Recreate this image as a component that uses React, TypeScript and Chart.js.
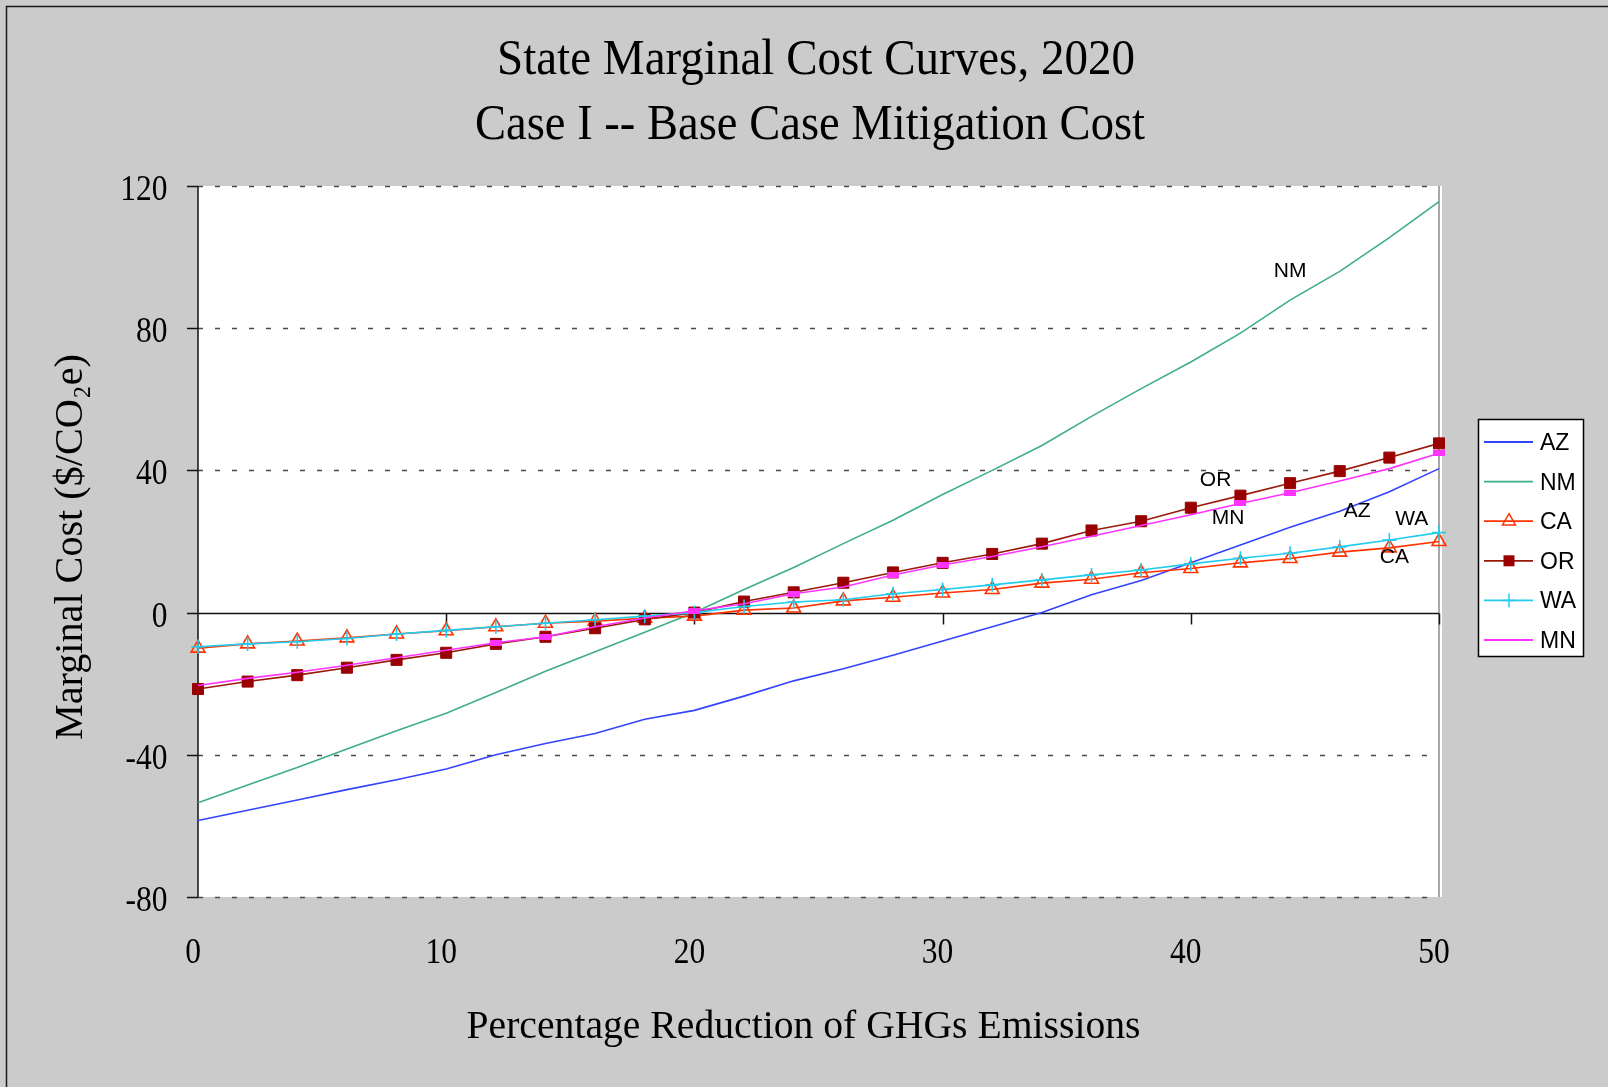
import React, { useEffect, useRef } from 'react';
import { Chart, registerables } from 'chart.js';

Chart.register(...registerables);

// ---------- data ----------
const reductionPct = [0, 2, 4, 6, 8, 10, 12, 14, 16, 18, 20, 22, 24, 26, 28, 30, 32, 34, 36, 38, 40, 42, 44, 46, 48, 50];
const azCost = [-58.5, -55.6, -52.7, -49.8, -47, -44, -40, -36.8, -34, -30, -27.5, -23.5, -19.2, -15.8, -12, -8, -4, 0, 5, 9, 14, 19, 24, 28.5, 34, 40.5];
const nmCost = [-53.5, -48.5, -43.6, -38.4, -33.2, -28.3, -22.5, -16.5, -11, -5.5, 0, 6.5, 12.7, 19.4, 26, 33.2, 40, 47, 55.2, 63, 70.5, 78.6, 87.9, 96, 105.5, 115.6];
const caCost = [-10, -8.8, -8, -7.1, -6, -5.1, -4, -3, -2.4, -1.6, -1, 0.7, 1.3, 3.3, 4.3, 5.5, 6.5, 8.3, 9.4, 11.2, 12.4, 14, 15.2, 17, 18.2, 20];
const orCost = [-21.5, -19.4, -17.6, -15.5, -13.3, -11.3, -8.8, -6.8, -4.4, -1.9, 0, 3.1, 5.7, 8.4, 11.3, 14, 16.5, 19.4, 23.1, 25.7, 29.5, 32.9, 36.4, 39.8, 43.6, 47.6];
const waCost = [-9.6, -8.8, -8.2, -7.3, -6, -5, -4, -3, -2, -1, 0, 1.7, 3, 3.6, 5.3, 6.5, 7.8, 9.2, 10.6, 12, 13.7, 15.3, 16.7, 18.5, 20.4, 22.5];
const mnCost = [-20.5, -18.5, -16.8, -14.8, -12.7, -10.6, -8.5, -6.8, -4, -1.5, 0.5, 2.5, 5.3, 7.2, 10.6, 13.4, 15.8, 18.5, 21.5, 24.5, 27.5, 30.7, 33.7, 37, 40.5, 44.8];
const mnMarkerAt = [12, 14, 20, 24, 28, 30, 42, 44, 50];

const seriesNames = ['AZ', 'NM', 'CA', 'OR', 'WA', 'MN'];
const yTickValues = [-80, -40, 0, 40, 80, 120];
const xTickValues = [0, 10, 20, 30, 40, 50];
const titleLines = ['State Marginal Cost Curves, 2020', 'Case I -- Base Case Mitigation Cost'];
const xAxisTitle = 'Percentage Reduction of GHGs Emissions';
const yAxisTitle = 'Marginal Cost ($/CO\u2082e)';
const inlineLabelText = ['NM', 'OR', 'MN', 'AZ', 'WA', 'CA'];
const inlineLabelX = [44.0, 41.0, 41.5, 46.7, 48.9, 48.2];
const inlineLabelY = [95.9, 37.3, 26.5, 28.4, 26.4, 15.6];

// ---------- styles ----------
const SERIF = '"Liberation Serif", "Times New Roman", serif';
const SANS = '"Liberation Sans", Arial, sans-serif';
const BG = '#cbcbcb';
const COLORS = {
  AZ: '#3344ff',
  NM: '#3fae86',
  CA: '#ff3300',
  OR: '#9a1a0a',
  ORmark: '#990000',
  WA: '#22ccee',
  MN: '#ff33ff',
};

function drawFitted(ctx: CanvasRenderingContext2D, text: string, x: number, y: number, font: string, targetW: number, align: CanvasTextAlign, rotate = 0) {
  ctx.save();
  ctx.font = font;
  const w = ctx.measureText(text).width;
  const sx = targetW > 0 ? targetW / w : 1;
  ctx.translate(x, y);
  if (rotate) ctx.rotate(rotate);
  ctx.scale(sx, 1);
  ctx.textAlign = align;
  ctx.textBaseline = 'alphabetic';
  ctx.fillStyle = '#000';
  ctx.fillText(text, 0, 0);
  ctx.restore();
}

function drawScaled(ctx: CanvasRenderingContext2D, text: string, x: number, y: number, font: string, sx: number, align: CanvasTextAlign) {
  ctx.save();
  ctx.font = font;
  ctx.translate(x, y);
  ctx.scale(sx, 1);
  ctx.textAlign = align;
  ctx.textBaseline = 'alphabetic';
  ctx.fillStyle = '#000';
  ctx.fillText(text, 0, 0);
  ctx.restore();
}

function legendMarker(ctx: CanvasRenderingContext2D, name: string, x: number, y: number) {
  ctx.save();
  if (name === 'CA') {
    const r = 7.5;
    ctx.strokeStyle = COLORS.CA;
    ctx.lineWidth = 1.5;
    ctx.beginPath();
    ctx.moveTo(x, y - r);
    ctx.lineTo(x + r * Math.sin((2 * Math.PI) / 3), y - r * Math.cos((2 * Math.PI) / 3));
    ctx.lineTo(x + r * Math.sin((4 * Math.PI) / 3), y - r * Math.cos((4 * Math.PI) / 3));
    ctx.closePath();
    ctx.stroke();
  } else if (name === 'OR') {
    ctx.fillStyle = COLORS.ORmark;
    ctx.fillRect(x - 5.5, y - 5.5, 11, 11);
  } else if (name === 'WA') {
    ctx.strokeStyle = COLORS.WA;
    ctx.lineWidth = 1.5;
    ctx.beginPath();
    ctx.moveTo(x, y - 7);
    ctx.lineTo(x, y + 7);
    ctx.moveTo(x - 7, y);
    ctx.lineTo(x + 7, y);
    ctx.stroke();
  }
  ctx.restore();
}

const decorPlugin = {
  id: 'decor',
  beforeDraw(chart: any) {
    const ctx: CanvasRenderingContext2D = chart.ctx;
    const area = chart.chartArea;
    const xs = chart.scales.x;
    const ys = chart.scales.y;
    ctx.save();
    ctx.fillStyle = BG;
    ctx.fillRect(0, 0, chart.width, chart.height);
    // outer border
    ctx.strokeStyle = '#1a1a1a';
    ctx.lineWidth = 1.5;
    ctx.strokeRect(6.5, 6.5, 3000, 3000);
    // plot area
    ctx.fillStyle = '#ffffff';
    ctx.fillRect(area.left, area.top, area.right - area.left + 3, area.bottom - area.top);
    // dashed grid
    ctx.strokeStyle = '#4a4a4a';
    ctx.lineWidth = 1.4;
    ctx.setLineDash([5, 12]);
    for (const v of yTickValues) {
      if (v === 0) continue;
      const y = Math.round(ys.getPixelForValue(v)) + 0.5;
      ctx.beginPath();
      ctx.moveTo(area.left, y);
      ctx.lineTo(area.right, y);
      ctx.stroke();
    }
    ctx.setLineDash([]);
    // right border
    ctx.strokeStyle = '#8a8a8a';
    ctx.lineWidth = 1.5;
    ctx.beginPath();
    ctx.moveTo(area.right, area.top);
    ctx.lineTo(area.right, area.bottom);
    ctx.stroke();
    // y axis
    ctx.strokeStyle = '#111';
    ctx.lineWidth = 1.5;
    ctx.beginPath();
    ctx.moveTo(area.left, area.top);
    ctx.lineTo(area.left, area.bottom);
    ctx.stroke();
    for (const v of yTickValues) {
      const y = Math.round(ys.getPixelForValue(v)) + 0.5;
      ctx.beginPath();
      ctx.moveTo(area.left - 11, y);
      ctx.lineTo(area.left, y);
      ctx.stroke();
    }
    // zero line
    const y0 = Math.round(ys.getPixelForValue(0)) + 0.5;
    ctx.beginPath();
    ctx.moveTo(area.left, y0);
    ctx.lineTo(area.right, y0);
    ctx.stroke();
    for (const v of xTickValues) {
      if (v === 0) continue;
      const x = Math.round(xs.getPixelForValue(v)) + 0.5;
      ctx.beginPath();
      ctx.moveTo(x, y0);
      ctx.lineTo(x, y0 + 11);
      ctx.stroke();
    }
    ctx.restore();
  },
  afterDraw(chart: any) {
    const ctx: CanvasRenderingContext2D = chart.ctx;
    const xs = chart.scales.x;
    const ys = chart.scales.y;
    const area = chart.chartArea;
    ctx.save();
    // tick labels
    const tickFont = `35px ${SERIF}`;
    for (const v of yTickValues) {
      drawScaled(ctx, String(v), 167.5, ys.getPixelForValue(v) + 14, tickFont, 0.9, 'right');
    }
    for (const v of xTickValues) {
      drawScaled(ctx, String(v), xs.getPixelForValue(v) - 5, area.bottom + 66, tickFont, 0.9, 'center');
    }
    // titles
    drawFitted(ctx, titleLines[0], 816, 74, `51px ${SERIF}`, 638, 'center');
    drawFitted(ctx, titleLines[1], 810, 139, `51px ${SERIF}`, 670, 'center');
    drawFitted(ctx, xAxisTitle, 803.5, 1038, `41px ${SERIF}`, 674, 'center');
    drawFitted(ctx, yAxisTitle, 82, 547, `41px ${SERIF}`, 386, 'center', -Math.PI / 2);
    // inline labels
    ctx.font = `21px ${SANS}`;
    ctx.fillStyle = '#000';
    ctx.textAlign = 'center';
    ctx.textBaseline = 'middle';
    inlineLabelText.forEach((t, i) => {
      ctx.fillText(t, xs.getPixelForValue(inlineLabelX[i]), ys.getPixelForValue(inlineLabelY[i]));
    });
    // legend
    ctx.fillStyle = '#ffffff';
    ctx.fillRect(1478.5, 419.5, 105, 237);
    ctx.strokeStyle = '#000';
    ctx.lineWidth = 1.5;
    ctx.strokeRect(1478.5, 419.5, 105, 237);
    const lineColors = [COLORS.AZ, COLORS.NM, COLORS.CA, COLORS.OR, COLORS.WA, COLORS.MN];
    seriesNames.forEach((name, i) => {
      const y = 442 + 39.6 * i;
      ctx.strokeStyle = lineColors[i];
      ctx.lineWidth = 1.8;
      ctx.beginPath();
      ctx.moveTo(1484, y);
      ctx.lineTo(1533, y);
      ctx.stroke();
      legendMarker(ctx, name, 1509, y);
      ctx.font = `23px ${SANS}`;
      ctx.fillStyle = '#000';
      ctx.textAlign = 'left';
      ctx.textBaseline = 'alphabetic';
      ctx.fillText(name, 1540, y + 8);
    });
    ctx.restore();
  },
};

function toPoints(vals: number[]) {
  return reductionPct.map((x, i) => ({ x, y: vals[i] }));
}

export default function App() {
  const ref = useRef<HTMLCanvasElement>(null);
  useEffect(() => {
    document.body.style.margin = '0';
    const canvas = ref.current!;
    const bar = document.createElement('canvas');
    bar.width = 12;
    bar.height = 6;
    const bctx = bar.getContext('2d')!;
    bctx.fillStyle = COLORS.MN;
    bctx.fillRect(0, 0, 12, 6);

    const base = { tension: 0, clip: false as any, fill: false, borderWidth: 1.6 };
    const chart = new Chart(canvas, {
      type: 'line',
      data: {
        datasets: [
          { ...base, label: 'AZ', data: toPoints(azCost), borderColor: COLORS.AZ, pointRadius: 0, order: 6 },
          { ...base, label: 'NM', data: toPoints(nmCost), borderColor: COLORS.NM, pointRadius: 0, order: 5 },
          {
            ...base, label: 'CA', data: toPoints(caCost), borderColor: COLORS.CA,
            pointStyle: 'triangle', pointRadius: 8, pointBorderColor: COLORS.CA,
            pointBackgroundColor: 'rgba(0,0,0,0)', pointBorderWidth: 1.6, order: 4,
          },
          {
            ...base, label: 'OR', data: toPoints(orCost), borderColor: COLORS.OR,
            pointStyle: 'rect', pointRadius: 7.8, pointBorderColor: COLORS.ORmark,
            pointBackgroundColor: COLORS.ORmark, pointBorderWidth: 1, order: 3,
          },
          {
            ...base, label: 'WA', data: toPoints(waCost), borderColor: COLORS.WA,
            pointStyle: 'cross', pointRadius: 7, pointBorderColor: COLORS.WA,
            pointBorderWidth: 1.6, order: 2,
          },
          {
            ...base, label: 'MN', data: toPoints(mnCost), borderColor: COLORS.MN,
            pointStyle: bar as any, pointRadius: reductionPct.map((x) => (mnMarkerAt.includes(x) ? 4 : 0)),
            order: 1,
          },
        ] as any,
      },
      options: {
        responsive: false,
        animation: false,
        devicePixelRatio: 1,
        layout: { padding: { left: 198, top: 186, right: 169, bottom: 190 } },
        scales: {
          x: { type: 'linear', min: 0, max: 50, display: false },
          y: { type: 'linear', min: -80, max: 120, display: false },
        },
        plugins: {
          legend: { display: false },
          tooltip: { enabled: false },
          title: { display: false },
        },
        events: [],
      },
      plugins: [decorPlugin],
    });
    return () => chart.destroy();
  }, []);
  return <canvas ref={ref} width={1608} height={1087} style={{ display: 'block' }} />;
}
